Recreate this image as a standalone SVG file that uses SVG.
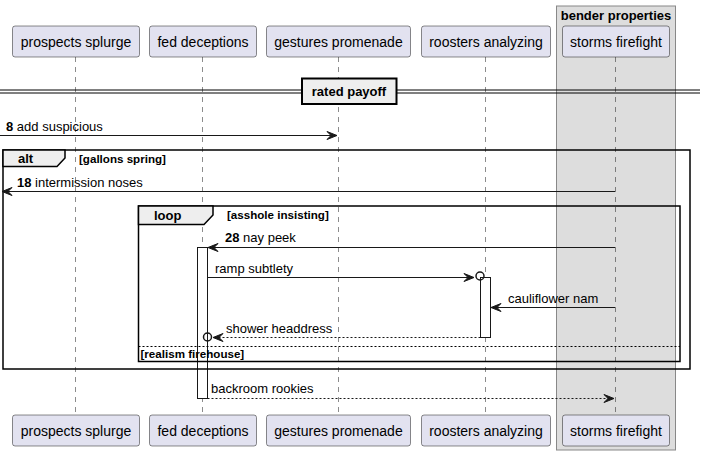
<svg xmlns="http://www.w3.org/2000/svg" width="705" height="456" viewBox="0 0 705 456">
<defs>
<style>
.p{fill:#E2E2F0;stroke:#181818;stroke-width:0.5}
.pt{font-family:"Liberation Sans",Arial,sans-serif;font-size:14px;fill:#000;text-anchor:middle}
.ll{stroke:#181818;stroke-width:0.5;stroke-dasharray:5,5;fill:none}
.m{stroke:#181818;stroke-width:1;fill:none}
.md{stroke:#181818;stroke-width:1;fill:none;stroke-dasharray:2,2}
.mt{font-family:"Liberation Sans",Arial,sans-serif;font-size:13px;fill:#000}
.b{font-weight:bold}
.ft{font-family:"Liberation Sans",Arial,sans-serif;font-size:11.6px;font-weight:bold;fill:#000}
.fr{fill:none;stroke:#000;stroke-width:1.5}
.tab{fill:#EEEEEE;stroke:#000;stroke-width:1.5}
.act{fill:#FFFFFF;stroke:#181818;stroke-width:1}
.ah{fill:#181818;stroke:#181818;stroke-width:1}
.c{fill:none;stroke:#181818;stroke-width:1.5}
</style>
</defs>
<rect width="705" height="456" fill="#FFFFFF"/>
<g id="box-bender">
<rect x="556.5" y="6" width="119" height="444" fill="#DDDDDD" stroke="#888888" stroke-width="1"/>
<text x="616" y="20" class="mt b" text-anchor="middle">bender properties</text>
</g>
<g id="lifelines">
<line class="ll" x1="75.5" y1="57" x2="75.5" y2="415"/>
<line class="ll" x1="202.5" y1="57" x2="202.5" y2="415"/>
<line class="ll" x1="338.5" y1="57" x2="338.5" y2="415"/>
<line class="ll" x1="485.5" y1="57" x2="485.5" y2="415"/>
<line class="ll" x1="615.5" y1="57" x2="615.5" y2="415"/>
</g>
<g id="p-prospects">
<rect class="p" x="12.5" y="26" width="127" height="31" rx="2.5"/>
<text class="pt" x="76" y="47">prospects splurge</text>
<rect class="p" x="12.5" y="415" width="127" height="31" rx="2.5"/>
<text class="pt" x="76" y="436">prospects splurge</text>
</g>
<g id="p-fed">
<rect class="p" x="149.5" y="26" width="107" height="31" rx="2.5"/>
<text class="pt" x="203" y="47">fed deceptions</text>
<rect class="p" x="149.5" y="415" width="107" height="31" rx="2.5"/>
<text class="pt" x="203" y="436">fed deceptions</text>
</g>
<g id="p-gestures">
<rect class="p" x="266.5" y="26" width="144" height="31" rx="2.5"/>
<text class="pt" x="338.5" y="47">gestures promenade</text>
<rect class="p" x="266.5" y="415" width="144" height="31" rx="2.5"/>
<text class="pt" x="338.5" y="436">gestures promenade</text>
</g>
<g id="p-roosters">
<rect class="p" x="421.5" y="26" width="129" height="31" rx="2.5"/>
<text class="pt" x="486" y="47">roosters analyzing</text>
<rect class="p" x="421.5" y="415" width="129" height="31" rx="2.5"/>
<text class="pt" x="486" y="436">roosters analyzing</text>
</g>
<g id="p-storms">
<rect class="p" x="562.5" y="26" width="107" height="31" rx="2.5"/>
<text class="pt" x="616" y="47">storms firefight</text>
<rect class="p" x="562.5" y="415" width="107" height="31" rx="2.5"/>
<text class="pt" x="616" y="436">storms firefight</text>
</g>
<g id="activations">
<rect class="act" x="197.5" y="247.5" width="10" height="151"/>
<rect class="act" x="480.5" y="277.5" width="10" height="60"/>
</g>
<g id="divider">
<line x1="0" y1="90" x2="700" y2="90" stroke="#000" stroke-width="1"/>
<line x1="0" y1="93" x2="700" y2="93" stroke="#000" stroke-width="1"/>
<rect x="302" y="78.5" width="94.5" height="25.5" fill="#EEEEEE" stroke="#000" stroke-width="2"/>
<text x="349" y="96" class="mt b" text-anchor="middle">rated payoff</text>
</g>
<g id="frame-alt">
<rect class="fr" x="3" y="150" width="687" height="219"/>
<path class="tab" d="M3,150 L65,150 L65,158 L57,166.5 L3,166.5 Z"/>
<text x="18" y="163" class="mt b">alt</text>
<text x="79" y="163" class="ft">[gallons spring]</text>
</g>
<g id="frame-loop">
<rect class="fr" x="138.5" y="206" width="541.5" height="155.5"/>
<path class="tab" d="M138.5,206 L213,206 L213,215 L204,224.5 L138.5,224.5 Z"/>
<text x="154" y="220" class="mt b">loop</text>
<text x="227" y="219" class="ft">[asshole insisting]</text>
<line x1="138.5" y1="346.5" x2="680" y2="346.5" stroke="#000" stroke-width="1" stroke-dasharray="2,2"/>
<text x="140.5" y="358" class="ft">[realism firehouse]</text>
</g>
<g id="connectors">
<line class="m" x1="0" y1="135.5" x2="337" y2="135.5"/>
<polygon class="ah" points="337,135.5 327,131.5 331,135.5 327,139.5"/>
<text x="6" y="131" class="mt"><tspan class="b">8</tspan> add suspicious</text>

<line class="m" x1="615" y1="191.5" x2="2" y2="191.5"/>
<polygon class="ah" points="2,191.5 12,187.5 8,191.5 12,195.5"/>
<text x="17" y="187" class="mt"><tspan class="b">18</tspan> intermission noses</text>

<line class="m" x1="615" y1="247.5" x2="208" y2="247.5"/>
<polygon class="ah" points="208,247.5 218,243.5 214,247.5 218,251.5"/>
<text x="225" y="242" class="mt"><tspan class="b">28</tspan> nay peek</text>

<line class="m" x1="207.5" y1="277.5" x2="474" y2="277.5"/>
<polygon class="ah" points="474,277.5 464,273.5 468,277.5 464,281.5"/>
<circle class="c" cx="480" cy="276" r="4"/>
<text x="215" y="273" class="mt">ramp subtlety</text>

<line class="m" x1="615" y1="307.5" x2="491" y2="307.5"/>
<polygon class="ah" points="491,307.5 501,303.5 497,307.5 501,311.5"/>
<text x="508" y="303" class="mt">cauliflower nam</text>

<line class="md" x1="480.5" y1="337.5" x2="213" y2="337.5"/>
<polygon class="ah" points="213,337.5 223,333.5 219,337.5 223,341.5"/>
<circle class="c" cx="207.5" cy="337" r="4"/>
<text x="226" y="333" class="mt">shower headdress</text>

<line class="md" x1="207.5" y1="398.5" x2="614" y2="398.5"/>
<polygon class="ah" points="614,398.5 604,394.5 608,398.5 604,402.5"/>
<text x="211" y="393" class="mt">backroom rookies</text>
</g>
</svg>
